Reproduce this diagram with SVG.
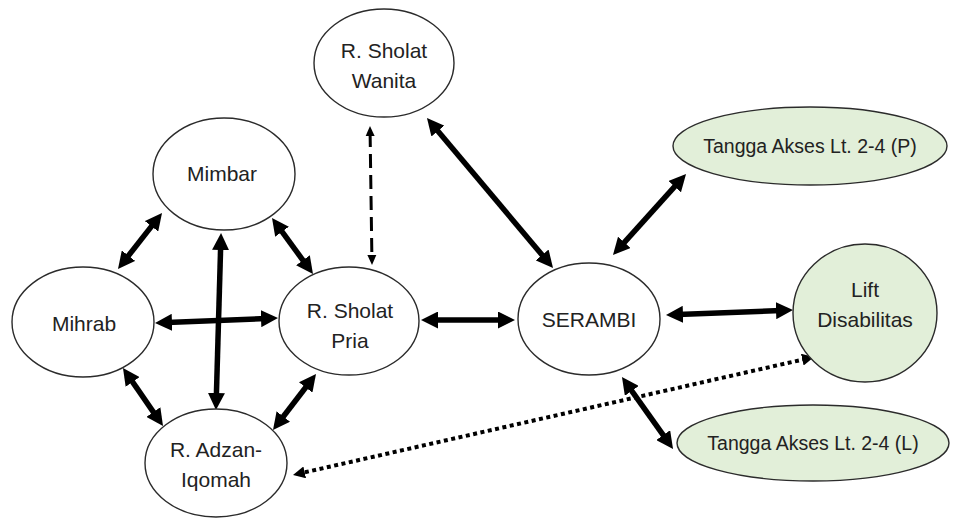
<svg xmlns="http://www.w3.org/2000/svg" width="953" height="518" viewBox="0 0 953 518">
<defs>
<style>
.n{fill:#fff;stroke:#2b2b2b;stroke-width:1.4}
.g{fill:#e2efd9;stroke:#2b2b2b;stroke-width:1.4}
text{font-family:"Liberation Sans",Arial,sans-serif;font-size:21px;fill:#222;text-anchor:middle}
text.s{font-size:19.5px}
.c{stroke:#000;stroke-width:5.5;fill:none;marker-start:url(#ah);marker-end:url(#ah)}
.d{stroke:#000;stroke-width:3;fill:none;stroke-dasharray:14 7;marker-start:url(#ahs);marker-end:url(#ahs)}
.t{stroke:#000;stroke-width:4;fill:none;stroke-dasharray:4 3.5;marker-start:url(#ahd);marker-end:url(#ahd)}
</style>
<marker id="ah" markerUnits="userSpaceOnUse" viewBox="0 0 17 17" markerWidth="17" markerHeight="17" refX="5" refY="8.5" orient="auto-start-reverse"><path d="M0,0 L17,8.5 L0,17 z" fill="#000"/></marker>
<marker id="ahs" markerUnits="userSpaceOnUse" viewBox="0 0 10 10" markerWidth="10" markerHeight="10" refX="3" refY="5" orient="auto-start-reverse"><path d="M0,0.5 L10,5 L0,9.5 z" fill="#000"/></marker>
<marker id="ahd" markerUnits="userSpaceOnUse" viewBox="0 0 12 12" markerWidth="12" markerHeight="12" refX="4" refY="6" orient="auto-start-reverse"><path d="M0,0 L12,6 L0,12 z" fill="#000"/></marker>
</defs>
<g id="connectors">
<line class="c" x1="154.6" y1="222.4" x2="125.4" y2="259.6"/>
<line class="c" x1="279.1" y1="227.7" x2="305.9" y2="264.3"/>
<line class="c" x1="167" y1="322.5" x2="266" y2="318.5"/>
<line class="c" x1="220.7" y1="245" x2="216.3" y2="398"/>
<line class="c" x1="129.8" y1="377.9" x2="156.2" y2="416.1"/>
<line class="c" x1="308.7" y1="383.5" x2="280.3" y2="420.5"/>
<line class="d" x1="370.1" y1="133" x2="371.9" y2="258"/>
<line class="c" x1="434.7" y1="127.2" x2="545.3" y2="258.8"/>
<line class="c" x1="433" y1="320" x2="503" y2="320"/>
<line class="c" x1="621" y1="246.1" x2="678" y2="182.9"/>
<line class="c" x1="678" y1="314.5" x2="781" y2="310.5"/>
<line class="c" x1="628.9" y1="386.8" x2="666.1" y2="439.2"/>
<line class="t" x1="806.2" y1="358.8" x2="300.8" y2="473.2"/>
</g>
<g id="wanita"><ellipse class="n" cx="384" cy="63" rx="70" ry="54"/><text x="384" y="58">R. Sholat</text><text x="384" y="88">Wanita</text></g>
<g id="mimbar"><ellipse class="n" cx="224" cy="174" rx="71" ry="56"/><text x="222" y="181">Mimbar</text></g>
<g id="mihrab"><ellipse class="n" cx="83" cy="322" rx="71" ry="55"/><text x="84" y="331">Mihrab</text></g>
<g id="pria"><ellipse class="n" cx="349" cy="321" rx="70" ry="54"/><text x="350" y="318">R. Sholat</text><text x="350" y="348">Pria</text></g>
<g id="adzan"><ellipse class="n" cx="216" cy="463" rx="71" ry="54"/><text x="216" y="457">R. Adzan-</text><text x="216" y="487">Iqomah</text></g>
<g id="serambi"><ellipse class="n" cx="589" cy="319" rx="71" ry="56"/><text x="589" y="327">SERAMBI</text></g>
<g id="tanggaP"><ellipse class="g" cx="810" cy="146" rx="137" ry="39"/><text class="s" x="810" y="153">Tangga Akses Lt. 2-4 (P)</text></g>
<g id="lift"><ellipse class="g" cx="865" cy="313" rx="72" ry="69"/><text x="865" y="297">Lift</text><text x="865" y="327">Disabilitas</text></g>
<g id="tanggaL"><ellipse class="g" cx="813" cy="443" rx="136" ry="38"/><text class="s" x="813" y="450">Tangga Akses Lt. 2-4 (L)</text></g>
</svg>
